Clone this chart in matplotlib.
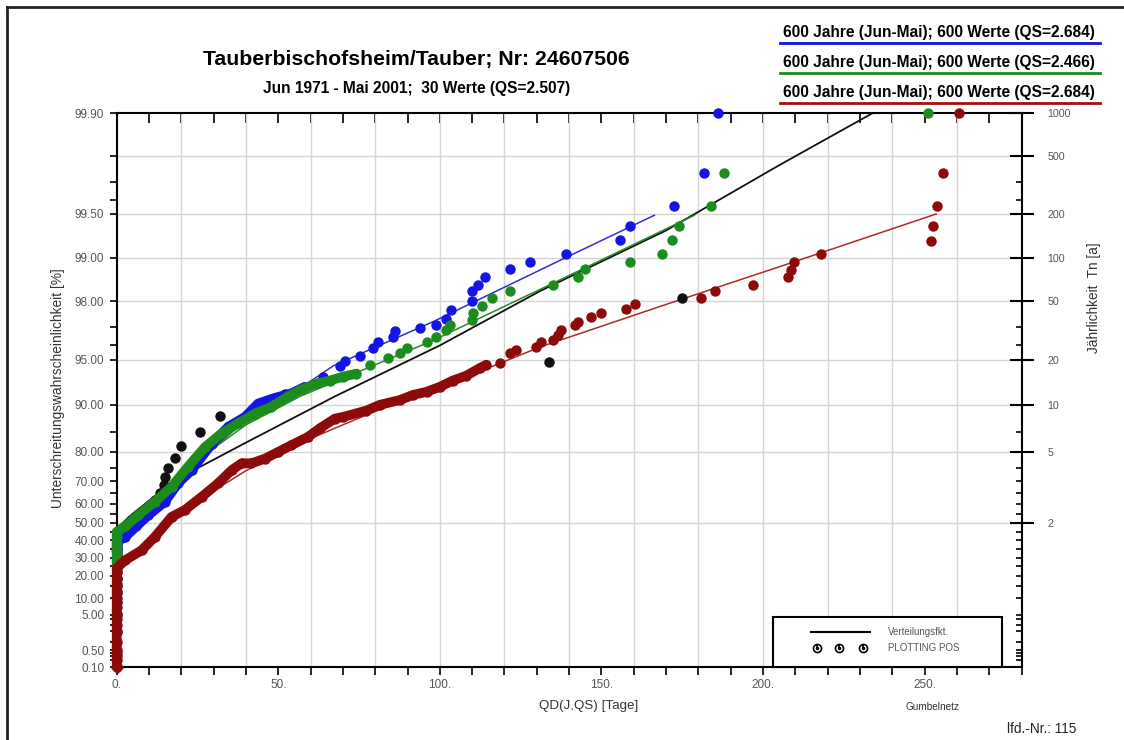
import numpy as np
import matplotlib
matplotlib.use("Agg")
import matplotlib.pyplot as plt
from matplotlib.lines import Line2D
from matplotlib.patches import Rectangle
from matplotlib.ticker import NullFormatter

plt.rcParams['font.family'] = ['Liberation Sans', 'DejaVu Sans']

# --- data: QD (days) vs. plotting probability (%) ---
black_qd = [0, 0, 0, 0, 0, 0, 0, 0, 0, 0, 0, 0, 0, 0,
            2.5, 4.5, 7.0, 10.5, 12.0, 13.5, 14.5, 14.9, 15.8, 18.0, 19.9, 25.8, 31.9, 52.0, 133.8, 174.9]
black_p = [1.9, 5.2, 8.5, 11.8, 15.1, 18.5, 21.8, 25.1, 28.4, 31.7, 35.1, 38.4, 41.7, 45.0,
           48.3, 51.7, 55.0, 58.3, 61.6, 64.9, 68.3, 71.6, 74.9, 78.2, 81.5, 84.9, 88.2, 91.5, 94.8, 98.1]

blue_qd = [0, 0, 0, 0, 2.6, 6.0, 9.8, 14.9, 19.0, 23.2, 29.4, 34.5, 39.7, 43.8, 48.9, 54.1, 58.2,
           63.9, 69.0, 70.6, 75.2, 79.3, 80.9, 85.5, 86.0, 93.8, 98.9, 102.0, 103.6, 109.8, 109.8,
           111.8, 113.9, 121.6, 127.8, 138.9, 155.6, 158.9, 172.6, 181.7, 186.0]
blue_p = [33, 35, 37, 39, 42, 48, 54.2, 61, 69.2, 74.2, 82.2, 86.1, 88, 90.2, 91, 91.6, 92.4,
          93.5, 94.5, 94.9, 95.3, 95.85, 96.2, 96.5, 96.8, 96.95, 97.1, 97.35, 97.7, 98.0, 98.3,
          98.45, 98.65, 98.8, 98.93, 99.05, 99.24, 99.39, 99.56, 99.74, 99.9]

green_qd = [0, 0, 0, 0, 0, 0, 2.6, 6.7, 11.8, 17.0, 22.1, 27.3, 32.5, 37.6, 42.8, 47.9, 53.1, 57.7,
            62.3, 66.0, 70.0, 74.2, 78.3, 84.0, 87.6, 89.7, 95.9, 98.9, 102.0, 103.1, 109.8, 110.3,
            112.9, 116.0, 121.6, 135.0, 142.7, 144.8, 158.7, 168.8, 171.8, 174.0, 184.0, 187.9, 251.2]
green_p = [26, 30, 34, 38, 42, 45, 48, 54.2, 61, 67.8, 75.4, 81.3, 84.7, 86.8, 88.6, 89.7, 91.2, 92.2,
           92.8, 93.1, 93.5, 93.8, 94.6, 95.1, 95.5, 95.85, 96.2, 96.5, 96.85, 97.1, 97.3, 97.6,
           97.85, 98.1, 98.3, 98.45, 98.65, 98.8, 98.93, 99.05, 99.24, 99.39, 99.56, 99.74, 99.9]

red_qd = [0, 0, 0, 0, 0, 0, 0, 0, 0, 0, 0, 0, 0, 0, 0, 0, 0,
          2.6, 7.7, 11.8, 17.0, 21.1, 26.3, 31.4, 35.6, 38.7, 41.7, 45.9, 50.0, 54.0, 59.2, 62.9,
          67.5, 70.0, 77.3, 81.4, 87.6, 91.7, 95.9, 100.0, 104.0, 108.2, 112.3, 114.4, 118.5,
          121.6, 123.7, 129.9, 131.4, 135.0, 136.6, 137.6, 141.7, 142.7, 146.9, 150.0, 157.7,
          160.3, 180.9, 185.0, 196.8, 207.7, 208.7, 209.7, 218.0, 252.0, 252.7, 254.0, 255.8, 260.8]
red_p = [0.1, 0.2, 0.3, 0.4, 0.5, 1, 2, 3, 4, 5, 7, 10, 13, 16, 19, 22, 24,
         28.4, 34.2, 42, 53.3, 56.9, 63.3, 69.2, 74.2, 76.5, 76.5, 78, 80, 81.8, 83.9, 85.8,
         87.7, 88, 89.1, 90, 90.7, 91.4, 91.8, 92.4, 93.1, 93.6, 94.3, 94.6, 94.7,
         95.5, 95.7, 95.9, 96.2, 96.3, 96.6, 96.85, 97.1, 97.25, 97.45, 97.6, 97.75,
         97.9, 98.1, 98.3, 98.45, 98.65, 98.78, 98.93, 99.05, 99.23, 99.39, 99.56, 99.74, 99.9]

# fitted distribution curves
black_fit_qd = [0, 5, 10, 15, 21, 40, 67.5, 100, 131, 170, 205, 234]
black_fit_p = [47, 55, 61.5, 67, 72.4, 82.5, 91.2, 96.0, 98.3, 99.35, 99.77, 99.9]
blue_fit_qd = [0, 10, 20, 30, 40, 57, 67, 98, 137, 166.4]
blue_fit_p = [36, 55, 70, 81, 87.5, 92.3, 94.5, 97.25, 98.95, 99.49]
green_fit_qd = [0, 10, 20, 30, 40, 56.7, 97.9, 137, 178.8]
green_fit_p = [40, 58, 71, 81, 86.5, 91.2, 96.3, 98.57, 99.49]
red_fit_qd = [0, 10, 20, 30, 40, 60, 80, 100, 131, 170, 208, 253.6]
red_fit_p = [24, 40, 55, 66, 74, 83.5, 89, 92.3, 95.9, 97.9, 98.9, 99.5]

left_major = [0.1, 0.5, 5, 10, 20, 30, 40, 50, 60, 70, 80, 90, 95, 98, 99, 99.5, 99.9]
left_minor = [0.2, 0.3, 0.4, 1, 2, 3, 4, 15, 25, 35, 45, 55, 65, 75, 85, 96, 97, 99.6, 99.7, 99.8]
return_periods = [2, 5, 10, 20, 50, 100, 200, 500, 1000]
right_minor = [0.1, 0.2, 0.3, 0.4, 0.5, 1, 2, 3, 4, 5, 10, 15, 20, 25, 30, 35, 40, 45,
               55, 60, 65, 70, 75, 85, 96, 97, 99.6, 99.7]
header = ["600 Jahre (Jun-Mai); 600 Werte (QS=2.684)",
          "600 Jahre (Jun-Mai); 600 Werte (QS=2.466)",
          "600 Jahre (Jun-Mai); 600 Werte (QS=2.684)"]

C_BLUE, C_GREEN, C_RED, C_BLACK = '#1414e6', '#1c8c1c', '#8c0a0a', '#111111'
GRAY = '#555555'


def gumbel(p):
    p = np.clip(np.asarray(p, dtype=float) / 100.0, 1e-12, 1 - 1e-12)
    return -np.log(-np.log(p))


def gumbel_inv(g):
    return 100.0 * np.exp(-np.exp(-np.asarray(g, dtype=float)))


W, H = 1124, 740
fig = plt.figure(figsize=(W / 100, H / 100), dpi=100)


def fx(x):
    return x / W


def fy(y):
    return 1 - y / H


ax = fig.add_axes([fx(116.7), fy(667), (1021.5 - 116.7) / W, (667 - 113) / H])
ax.set_yscale('function', functions=(gumbel, gumbel_inv))
ax.set_xlim(0, 280)
ax.set_ylim(0.1, 99.9)

for xv in range(20, 280, 20):
    ax.axvline(xv, color='#d4d4d4', lw=1, zorder=0.5)
for t in return_periods[:-1]:
    ax.axhline(100 * (1 - 1 / t), color='#d4d4d4', lw=1, zorder=0.5)

# fit curves
ax.plot(black_fit_qd, black_fit_p, color=C_BLACK, lw=1.3, zorder=2)
ax.plot(blue_fit_qd, blue_fit_p, color='#3030d0', lw=1.1, zorder=2)
ax.plot(green_fit_qd, green_fit_p, color='#2a8a2a', lw=1.1, zorder=2)
ax.plot(red_fit_qd, red_fit_p, color='#b02828', lw=1.1, zorder=2)

# plotting positions
series = [(black_qd, black_p, C_BLACK, 0, 3),
          (blue_qd, blue_p, C_BLUE, 60, 4),
          (green_qd, green_p, C_GREEN, 75, 5),
          (red_qd, red_p, C_RED, 118, 6)]
for qd, p, col, dense, z in series:
    qd = np.array(qd)
    p = np.array(p)
    m = qd <= dense
    if dense > 0:
        ax.plot(qd[m], p[m], '-', color=col, lw=7, solid_capstyle='round',
                solid_joinstyle='round', zorder=z, clip_on=False)
    ax.plot(qd, p, 'o', color=col, ms=7.5, mew=0, zorder=z, clip_on=False)

# red diamond at origin
ax.plot([red_qd[0]], [red_p[0]], 'D', color=C_RED, ms=6, zorder=7, clip_on=False)

for s in ax.spines.values():
    s.set_linewidth(1.5)
    s.set_zorder(2.5)

ax.set_yticks(left_major, labels=[f"{v:.2f}" for v in left_major])
ax.set_yticks(left_minor, minor=True)
ax.yaxis.set_minor_formatter(NullFormatter())
ax.tick_params(axis='y', which='both', direction='out', length=5, width=1.2,
               labelsize=8.5, labelcolor=GRAY, pad=4)

ax.set_xticks(np.arange(0, 251, 50), labels=[f"{v}." for v in range(0, 251, 50)])
ax.set_xticks(np.arange(0, 281, 10), minor=True)
ax.tick_params(axis='x', which='both', direction='out', length=6, width=1.2,
               labelsize=8.5, labelcolor=GRAY, pad=3)

secx = ax.secondary_xaxis('top')
secx.set_xticks(np.arange(10, 280, 10))
secx.tick_params(direction='in', length=7, width=1.2, labeltop=False)
secx.spines['top'].set_visible(False)

ax2 = ax.twinx()
ax2.set_yscale('function', functions=(gumbel, gumbel_inv))
ax2.set_ylim(0.1, 99.9)
ax2.set_yticks([100 * (1 - 1 / t) for t in return_periods], labels=[str(t) for t in return_periods])
ax2.set_yticks(right_minor, minor=True)
ax2.yaxis.set_minor_formatter(NullFormatter())
ax2.tick_params(axis='y', which='major', direction='inout', length=17, width=1.5,
                labelsize=7.7, labelcolor=GRAY, pad=10)
ax2.tick_params(axis='y', which='minor', direction='in', length=4, width=1.2)
for s in ax2.spines.values():
    s.set_visible(False)

# titles and labels
fig.text(fx(416), fy(60), "Tauberbischofsheim/Tauber; Nr: 24607506", ha='center', va='center',
         fontsize=15.3, fontweight='bold')
fig.text(fx(417), fy(89), "Jun 1971 - Mai 2001;  30 Werte (QS=2.507)", ha='center', va='center',
         fontsize=11.2, fontweight='bold')
for i, (txt, col) in enumerate(zip(header, [C_BLUE, C_GREEN, '#a01010'])):
    yt = 32 + 30 * i
    fig.text(fx(939), fy(yt), txt, ha='center', va='center', fontsize=11.2, fontweight='bold')
    fig.add_artist(Line2D([fx(780), fx(1100)], [fy(yt + 11)] * 2, color=col, lw=2))

fig.text(fx(58), fy(388), "Unterschreitungswahrscheinlichkeit [%]", rotation=90,
         ha='center', va='center', fontsize=9.9, color='#333333')
fig.text(fx(1094), fy(298), "Jährlichkeit  Tn [a]", rotation=90,
         ha='center', va='center', fontsize=9.8, color='#333333')
fig.text(fx(589), fy(706), "QD(J,QS) [Tage]", ha='center', va='center', fontsize=9.6, color='#333333')
fig.text(fx(932), fy(707), "Gumbelnetz", ha='center', va='center', fontsize=7.2, color='#333333')
fig.text(fx(1042), fy(729), "lfd.-Nr.: 115", ha='center', va='center', fontsize=9.8, color='#222222')

# legend box
fig.add_artist(Rectangle((fx(773), fy(667)), (1002 - 773) / W, (667 - 617) / H,
                         facecolor='white', edgecolor='black', lw=1.5, zorder=3))
fig.add_artist(Line2D([fx(811), fx(870)], [fy(632)] * 2, color='black', lw=1.5, zorder=4))
for xm in [816.7, 839.3, 862.7]:
    fig.add_artist(Line2D([fx(xm)], [fy(648)], marker='o', ms=7, color='black', mew=0, zorder=4))
    fig.add_artist(Line2D([fx(xm)], [fy(648)], marker='o', ms=3.6, mfc='none', mec='white',
                          mew=1, zorder=5))
    fig.add_artist(Line2D([fx(xm)], [fy(646.5)], marker='|', ms=3, color='black', mew=1.2, zorder=6))
fig.text(fx(888), fy(632), "Verteilungsfkt.", ha='left', va='center', fontsize=7, color=GRAY, zorder=5)
fig.text(fx(888), fy(648), "PLOTTING POS", ha='left', va='center', fontsize=7, color=GRAY, zorder=5)

# outer frame
fig.add_artist(Line2D([fx(7), fx(7)], [fy(7), 0], color='#222222', lw=2))
fig.add_artist(Line2D([fx(7), 1], [fy(7), fy(7)], color='#222222', lw=2))

fig.savefig("out.png", dpi=100)
